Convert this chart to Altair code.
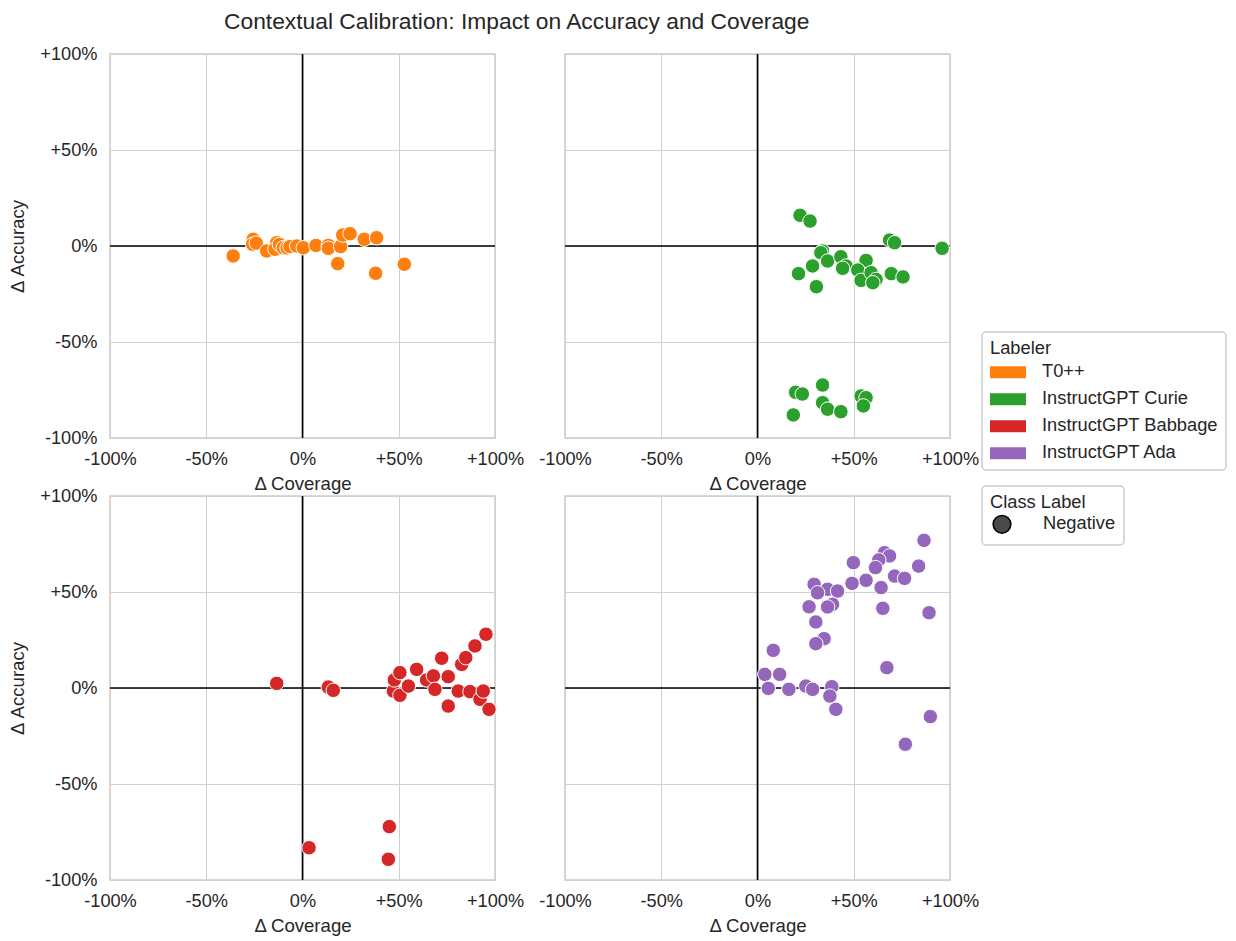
import altair as alt
import pandas as pd

labelers = ["T0++", "InstructGPT Curie", "InstructGPT Babbage", "InstructGPT Ada"]
colors = ["#ff7f0e", "#2ca02c", "#d62728", "#9467bd"]
class_labels = ["Negative"]
ticks = [-100, -50, 0, 50, 100]

t0_cov = [-36, -25.6, -25.9, -24, -18.6, -13.4, -14.3, -12, -10, -8, -6.5, -3, 0.4, 7, 13.4, 13.4,
          19.8, 20.9, 24.7, 18.3, 32.1, 38.5, 38, 52.9]
t0_acc = [-5.2, 3.5, 0.9, 1.5, -2.6, 1.7, -1.7, 0.8, -0.9, -1, -0.3, 0, -0.9, 0.3, 0.3, -1.2,
          -0.3, 5.7, 6.4, -9.2, 3.5, 4.3, -14.2, -9.5]

curie_cov = [22.1, 27.3, 68.6, 71.2, 95.9, 33.8, 32.9, 36.4, 43.3, 46, 44.2, 56.4, 52.1, 53.8,
             59, 61.6, 59.9, 69.5, 75.6, 28.6, 21.3, 30.6,
             19.8, 23.3, 33.8, 33.8, 36.4, 43.3, 18.6, 53.8, 56.4, 55]
curie_acc = [16, 13, 3.1, 1.7, -1.2, -2.6, -3.5, -7.8, -5.6, -10.4, -11.6, -7.5, -12.5, -17.9,
             -13.9, -17.4, -19.1, -14.4, -16.1, -10.4, -14.4, -21.2,
             -76.2, -77.1, -72.4, -81.6, -85, -86.3, -88, -78.1, -79, -83.3]

babbage_cov = [-13.4, 13.4, 16, 47.2, 47.7, 50.6, 50.6, 55, 59.3, 64.5, 68, 68.8, 72.3, 75.7,
               75.7, 80.9, 82.7, 84.8, 87, 89.6, 92.2, 93.9, 95.3, 96.9, 3.4, 45.1, 44.6]
babbage_acc = [2.4, 0.5, -1.2, -1.6, 4.2, 8, -3.8, 1, 9.7, 4.2, 6.3, -0.7, 15.5, 5.9,
               -9.4, -1.6, 12.3, 15.8, -1.9, 21.9, -5.9, -1.6, 28, -11.1, -83.2, -72.2, -89.2]

ada_cov = [86.5, 66, 68.6, 63, 61.3, 49.8, 83.7, 56.4, 71.2, 76.4, 49.1, 64.2, 29.4, 36.4, 41.6,
           31.2, 26.8, 39, 36.4, 65.1, 89.1, 30.3, 34.6, 30.3, 8.2,
           3.8, 11.5, 5.6, 16.3, 25.1, 28.6, 38.6, 37.6, 40.7, 67.2, 89.8, 76.8]
ada_acc = [76.9, 70.5, 68.8, 66.7, 62.7, 65.3, 63.5, 56.1, 58.3, 57.1, 54.5, 52.3, 54, 51.4, 50.5,
           49.6, 42.3, 43.6, 42.2, 41.5, 39.2, 34.4, 25.7, 23.1, 19.6,
           7.1, 7.1, -0.2, -0.7, 1, -0.7, 0.7, -4.2, -11.1, 10.6, -14.9, -29.3]

series = [(t0_cov, t0_acc), (curie_cov, curie_acc), (babbage_cov, babbage_acc), (ada_cov, ada_acc)]

FONT = "Liberation Sans"
TXT = "#262626"
label_expr = "datum.value > 0 ? '+' + datum.value + '%' : datum.value + '%'"

rect_path = "M-1.5,-0.5L1.5,-0.5L1.5,0.5L-1.5,0.5Z"


def panel(i, show_y):
    cov, acc = series[i]
    df = pd.DataFrame({"cov": cov, "acc": acc, "Labeler": labelers[i], "cls": class_labels[0]})
    xs = alt.Scale(domain=[-100, 100], nice=False, zero=False)
    ys = alt.Scale(domain=[-100, 100], nice=False, zero=False)
    xaxis = alt.Axis(values=ticks, labelExpr=label_expr, title="Δ Coverage", ticks=False,
                     domain=False, grid=True, labelPadding=12, titlePadding=7, labelFlush=False,
                     labelOverlap=False)
    if show_y:
        yaxis = alt.Axis(values=ticks, labelExpr=label_expr, title="Δ Accuracy", ticks=False,
                         domain=False, grid=True, labelPadding=13, titlePadding=12,
                         labelFlush=False, labelOverlap=False)
    else:
        yaxis = alt.Axis(values=ticks, labels=False, title=None, ticks=False, domain=False,
                         grid=True)
    pts = alt.Chart(df).mark_point(filled=True, size=210, opacity=1, stroke="white",
                                   strokeWidth=1).encode(
        x=alt.X("cov:Q", scale=xs, axis=xaxis),
        y=alt.Y("acc:Q", scale=ys, axis=yaxis),
        color=alt.Color("Labeler:N", scale=alt.Scale(domain=labelers, range=colors),
                        legend=alt.Legend(title="Labeler", orient="none", legendX=872, legendY=278,
                                          symbolType=rect_path, symbolSize=576,
                                          symbolStrokeWidth=0, symbolOffset=6, labelOffset=22,
                                          rowPadding=6, padding=8, titlePadding=2,
                                          labelLimit=0)),
        shape=alt.Shape("cls:N", scale=alt.Scale(domain=class_labels, range=["circle"]),
                        legend=alt.Legend(title="Class Label", orient="none", legendX=872, legendY=432,
                                          symbolSize=314, symbolFillColor="#4a4a4a",
                                          symbolStrokeColor="#000000", symbolStrokeWidth=1.5,
                                          labelOffset=31, padding=8, titlePadding=2,
                                          symbolOffset=2, labelLimit=0)),
    )
    zero = pd.DataFrame({"z": [0]})
    vline = alt.Chart(zero).mark_rule(color="black", strokeWidth=1.6).encode(x=alt.datum(0))
    hline = alt.Chart(zero).mark_rule(color="black", strokeWidth=1.6).encode(y=alt.datum(0))
    return alt.layer(vline, hline, pts).properties(width=385, height=384)


chart = alt.concat(
    panel(0, True), panel(1, False), panel(2, True), panel(3, False),
    columns=2, spacing={"row": 58, "column": 70}, bounds="flush",
).properties(
    title=alt.TitleParams("Contextual Calibration: Impact on Accuracy and Coverage",
                          fontSize=22.8, font=FONT, fontWeight="normal", color=TXT,
                          anchor="start", frame="group", dx=114, offset=9, limit=0),
    padding={"left": 0, "top": 3, "right": 0, "bottom": 0},
).configure_view(
    stroke="#cccccc", strokeWidth=1.5
).configure_axis(
    labelFont=FONT, titleFont=FONT, labelFontSize=18.2, titleFontSize=18.6,
    labelColor=TXT, titleColor=TXT, gridColor="#d0d0d0", gridWidth=1, titleFontWeight="normal",
).configure_legend(
    labelFont=FONT, titleFont=FONT, labelFontSize=18.3, titleFontSize=18.3,
    labelColor=TXT, titleColor=TXT, titleFontWeight="normal",
    strokeColor="#cccccc", fillColor="white", cornerRadius=4, strokeWidth=1.5,
)

chart.save("out.html", embed_options={"renderer": "svg", "actions": False})
